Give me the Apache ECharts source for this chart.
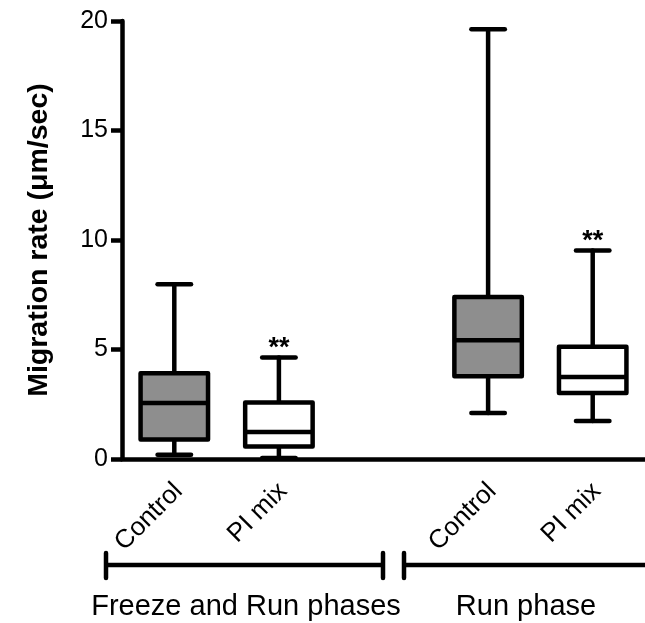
<!DOCTYPE html>
<html>
<head>
<meta charset="utf-8">
<script src="https://cdn.jsdelivr.net/npm/echarts@6/dist/echarts.min.js"></script>
<style>
html,body{margin:0;padding:0;background:#fff;}
#chart{width:645px;height:623px;}
</style>
</head>
<body>
<div id="chart"></div>
<script>
// ---- data ----
const categories = ['Control', 'PI mix', '', 'Control', 'PI mix'];
const boxCategoryIndex = [0, 1, 3, 4];
const whiskerMin = [0.19, 0.05, 2.10, 1.74];
const quartile1 = [0.89, 0.57, 3.78, 3.01];
const medians = [2.56, 1.23, 5.42, 3.74];
const quartile3 = [3.91, 2.58, 7.40, 5.12];
const whiskerMax = [7.98, 4.64, 19.62, 9.52];
const significance = ['', '**', '', '**'];
const yTicks = [0, 5, 10, 15, 20];
const groupLabels = ['Freeze and Run phases', 'Run phase'];
const yAxisTitle = 'Migration rate (\u03bcm/sec)';

// ---- styles ----
const fillByTreatment = { 'Control': '#8e8e8e', 'PI mix': '#ffffff' };
const LW = 4.5;
const FONT = "'Liberation Sans', Arial, Helvetica, sans-serif";

const boxData = boxCategoryIndex.map((c, i) => [c, whiskerMin[i], quartile1[i], medians[i], quartile3[i], whiskerMax[i], i]);

function renderItem(params, api) {
  const xi = api.value(0);
  const k = api.value(6);
  const lo = api.coord([xi, api.value(1)]);
  const q1 = api.coord([xi, api.value(2)]);
  const md = api.coord([xi, api.value(3)]);
  const q3 = api.coord([xi, api.value(4)]);
  const hi = api.coord([xi, api.value(5)]);
  const band = api.size([1, 0])[0];
  const bw = band * 0.645;
  const cw = band * 0.32;
  const cx = lo[0];
  const lineStyle = { stroke: '#000', lineWidth: LW, lineCap: 'round' };
  const children = [
    { type: 'line', shape: { x1: cx, y1: hi[1], x2: cx, y2: q3[1] }, style: lineStyle },
    { type: 'line', shape: { x1: cx, y1: q1[1], x2: cx, y2: lo[1] }, style: lineStyle },
    { type: 'line', shape: { x1: cx - cw / 2, y1: hi[1], x2: cx + cw / 2, y2: hi[1] }, style: lineStyle },
    { type: 'line', shape: { x1: cx - cw / 2, y1: lo[1], x2: cx + cw / 2, y2: lo[1] }, style: lineStyle },
    { type: 'rect', shape: { x: cx - bw / 2, y: q3[1], width: bw, height: q1[1] - q3[1] },
      style: { fill: fillByTreatment[categories[xi]], stroke: '#000', lineWidth: LW, lineJoin: 'round' } },
    { type: 'line', shape: { x1: cx - bw / 2, y1: md[1], x2: cx + bw / 2, y2: md[1] }, style: { stroke: '#000', lineWidth: LW } }
  ];
  if (significance[k]) {
    children.push({ type: 'text', x: cx, y: hi[1] - 9,
      style: { text: significance[k], fill: '#000', font: 'bold 27px ' + FONT, align: 'center', verticalAlign: 'middle' } });
  }
  return { type: 'group', children: children };
}

const chart = echarts.init(document.getElementById('chart'), null, { renderer: 'canvas' });
chart.setOption({
  animation: false,
  backgroundColor: '#fff',
  grid: { left: 122, top: 21, bottom: 164, right: -9.5, containLabel: false },
  xAxis: {
    type: 'category',
    data: categories,
    boundaryGap: true,
    axisLine: { lineStyle: { color: '#000', width: LW } },
    axisTick: { alignWithLabel: true, interval: 0, length: 12, lineStyle: { color: '#000', width: LW } },
    axisLabel: { interval: 0, rotate: 45, margin: 24, color: '#000', fontSize: 26, fontFamily: FONT,
      verticalAlign: 'top', lineHeight: 12 },
    splitLine: { show: false }
  },
  yAxis: {
    type: 'value',
    min: yTicks[0],
    max: yTicks[yTicks.length - 1],
    interval: 5,
    name: yAxisTitle,
    nameLocation: 'middle',
    nameGap: 68,
    nameTextStyle: { color: '#000', fontSize: 28.5, fontWeight: 'bold', fontFamily: FONT },
    axisLine: { show: true, lineStyle: { color: '#000', width: LW } },
    axisTick: { show: true, inside: false, length: 11, lineStyle: { color: '#000', width: LW } },
    axisLabel: { margin: 14, color: '#000', fontSize: 25, fontFamily: FONT },
    splitLine: { show: false }
  },
  series: [{
    type: 'custom',
    renderItem: renderItem,
    data: boxData,
    encode: { x: 0, y: [1, 2, 3, 4, 5] },
    clip: false,
    z: 3
  }],
  graphic: [
    { type: 'line', shape: { x1: 106, y1: 565, x2: 383, y2: 565 }, style: { stroke: '#000', lineWidth: LW } },
    { type: 'line', shape: { x1: 106, y1: 553, x2: 106, y2: 578 }, style: { stroke: '#000', lineWidth: LW, lineCap: 'round' } },
    { type: 'line', shape: { x1: 383, y1: 553, x2: 383, y2: 578 }, style: { stroke: '#000', lineWidth: LW, lineCap: 'round' } },
    { type: 'line', shape: { x1: 404, y1: 565, x2: 660, y2: 565 }, style: { stroke: '#000', lineWidth: LW } },
    { type: 'line', shape: { x1: 404, y1: 553, x2: 404, y2: 578 }, style: { stroke: '#000', lineWidth: LW, lineCap: 'round' } },
    { type: 'text', x: 246, y: 607, style: { text: groupLabels[0], fill: '#000', font: '29px ' + FONT, align: 'center', verticalAlign: 'middle' } },
    { type: 'text', x: 526, y: 607, style: { text: groupLabels[1], fill: '#000', font: '29px ' + FONT, align: 'center', verticalAlign: 'middle' } }
  ]
});
</script>
</body>
</html>
